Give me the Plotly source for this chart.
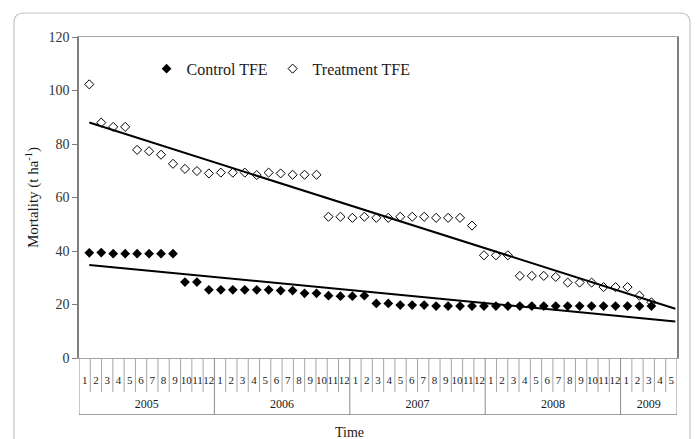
import numpy as np
import plotly.graph_objects as go

# monthly mortality (t ha-1), one value per period starting Jan 2005
control_tfe = [
    39.3, 39.4, 39.0, 39.0, 39.0, 39.0, 39.0, 39.0, 28.4, 28.4,
    25.5, 25.5, 25.5, 25.5, 25.5, 25.5, 25.2, 25.2, 24.2, 24.2,
    23.3, 23.1, 23.1, 23.3, 20.4, 20.4, 19.8, 19.8, 19.8, 19.4,
    19.4, 19.4, 19.4, 19.4, 19.4, 19.4, 19.4, 19.4, 19.4, 19.4,
    19.4, 19.4, 19.4, 19.4, 19.4, 19.4, 19.4, 19.4,
]
treatment_tfe = [
    102.3, 88.0, 86.4, 86.4, 77.8, 77.3, 76.0, 72.6, 70.7, 69.9,
    69.0, 69.3, 69.3, 69.3, 68.4, 69.3, 69.0, 68.5, 68.5, 68.5,
    52.8, 52.8, 52.4, 52.8, 52.4, 52.4, 52.8, 52.8, 52.8, 52.4,
    52.4, 52.4, 49.5, 38.4, 38.4, 38.4, 30.7, 30.7, 30.7, 30.3,
    28.2, 28.2, 28.2, 26.5, 26.5, 26.5, 23.3, 20.8,
]
period = list(range(1, len(control_tfe) + 1))
trend_forward = 2  # trendline forecast, periods

# category table under the chart
year_labels = ["2005", "2006", "2007", "2008", "2009"]
months_per_year = [12, 12, 12, 12, 5]

SERIF = "Times New Roman, Liberation Serif, serif"
TEXT = "#1a1a1a"

fig = go.Figure()

# trend lines (least squares, like the Excel trendline)
for series in (control_tfe, treatment_tfe):
    slope, icpt = np.polyfit(period, series, 1)
    tx = [period[0], period[-1] + trend_forward]
    fig.add_trace(go.Scatter(
        x=tx, y=[slope * t + icpt for t in tx], mode="lines",
        line=dict(color="black", width=2), showlegend=False, hoverinfo="skip",
    ))

fig.add_trace(go.Scatter(
    x=period, y=control_tfe, mode="markers", name="Control TFE",
    marker=dict(symbol="diamond", size=7.5, color="black"),
))
fig.add_trace(go.Scatter(
    x=period, y=treatment_tfe, mode="markers", name="Treatment TFE",
    marker=dict(symbol="diamond-open", size=7, color="black", line=dict(width=1)),
))

# --- table of months / years on its own subplot
year_edges = np.cumsum([0] + months_per_year)
n_cells = int(year_edges[-1])
month_x, month_y = [], []
for k in range(1, n_cells):
    if k in year_edges:
        continue
    month_x += [k, k, None]
    month_y += [57, 23, None]
year_x, year_y = [], []
for b in year_edges:
    year_x += [b, b, None]
    year_y += [57, 0, None]
fig.add_trace(go.Scatter(x=month_x, y=month_y, xaxis="x2", yaxis="y2", mode="lines",
                         line=dict(color="#a6a6a6", width=1), showlegend=False, hoverinfo="skip"))
fig.add_trace(go.Scatter(x=year_x, y=year_y, xaxis="x2", yaxis="y2", mode="lines",
                         line=dict(color="#8c8c8c", width=1), showlegend=False, hoverinfo="skip"))
fig.add_trace(go.Scatter(x=[0, n_cells], y=[0, 0], xaxis="x2", yaxis="y2", mode="lines",
                         line=dict(color="#7f7f7f", width=1.5), showlegend=False, hoverinfo="skip"))

month_text = [str(m) for n in months_per_year for m in range(1, n + 1)]
fig.add_trace(go.Scatter(
    x=[i + 0.5 for i in range(n_cells)], y=[34] * n_cells, xaxis="x2", yaxis="y2",
    mode="text", text=month_text, textfont=dict(family=SERIF, size=11, color=TEXT),
    showlegend=False, hoverinfo="skip",
))
fig.add_trace(go.Scatter(
    x=[(a + b) / 2 for a, b in zip(year_edges[:-1], year_edges[1:])], y=[10] * len(year_labels),
    xaxis="x2", yaxis="y2", mode="text", text=year_labels,
    textfont=dict(family=SERIF, size=12, color=TEXT), showlegend=False, hoverinfo="skip",
))

fig.update_layout(
    width=697, height=439,
    margin=dict(l=79, r=20, t=37, b=24, autoexpand=False),
    paper_bgcolor="white", plot_bgcolor="white",
    font=dict(family=SERIF, color=TEXT),
    xaxis=dict(range=[0.14, 50.14], showgrid=False, zeroline=False, showticklabels=False,
               ticks="", showline=True, mirror=True, linecolor="#a6a6a6", linewidth=1),
    yaxis=dict(domain=[57 / 378, 1], range=[0, 120], dtick=20, showgrid=False, zeroline=False,
               ticks="outside", ticklen=5, tickcolor="#7f7f7f",
               tickfont=dict(family=SERIF, size=14, color="#333"),
               showline=True, mirror=True, linecolor="#7f7f7f", linewidth=1.5,
               title=dict(text="Mortality (t ha<sup>-1</sup>)",
                          font=dict(family=SERIF, size=15, color=TEXT), standoff=6)),
    xaxis2=dict(domain=[0, 1], range=[0, n_cells], visible=False, anchor="y2"),
    yaxis2=dict(domain=[0, 57 / 378], range=[0, 57], visible=False, anchor="x2"),
    legend=dict(orientation="h", x=0.113, xanchor="left", y=0.916, yanchor="middle",
                font=dict(family=SERIF, size=16, color=TEXT), bgcolor="rgba(0,0,0,0)"),
    annotations=[dict(text="Time", xref="paper", yref="paper", x=0.453, y=-0.045,
                      xanchor="center", yanchor="middle", showarrow=False,
                      font=dict(family=SERIF, size=14, color=TEXT))],
    shapes=[dict(
        type="path", xref="paper", yref="paper", line=dict(color="#c4c4c4", width=1.2),
        path="M -0.092,1.0635 L 1.005,1.0635 Q 1.0217,1.0635 1.0217,1.037 L 1.0217,-0.12 "
             "L -0.1087,-0.12 L -0.1087,1.037 Q -0.1087,1.0635 -0.092,1.0635 Z",
    )],
)

# page body has a default 8px margin; drop it so the figure sits at 0,0
fig.write_html("out.html", config={"displayModeBar": False},
               post_script="document.body.style.margin='0px';")
